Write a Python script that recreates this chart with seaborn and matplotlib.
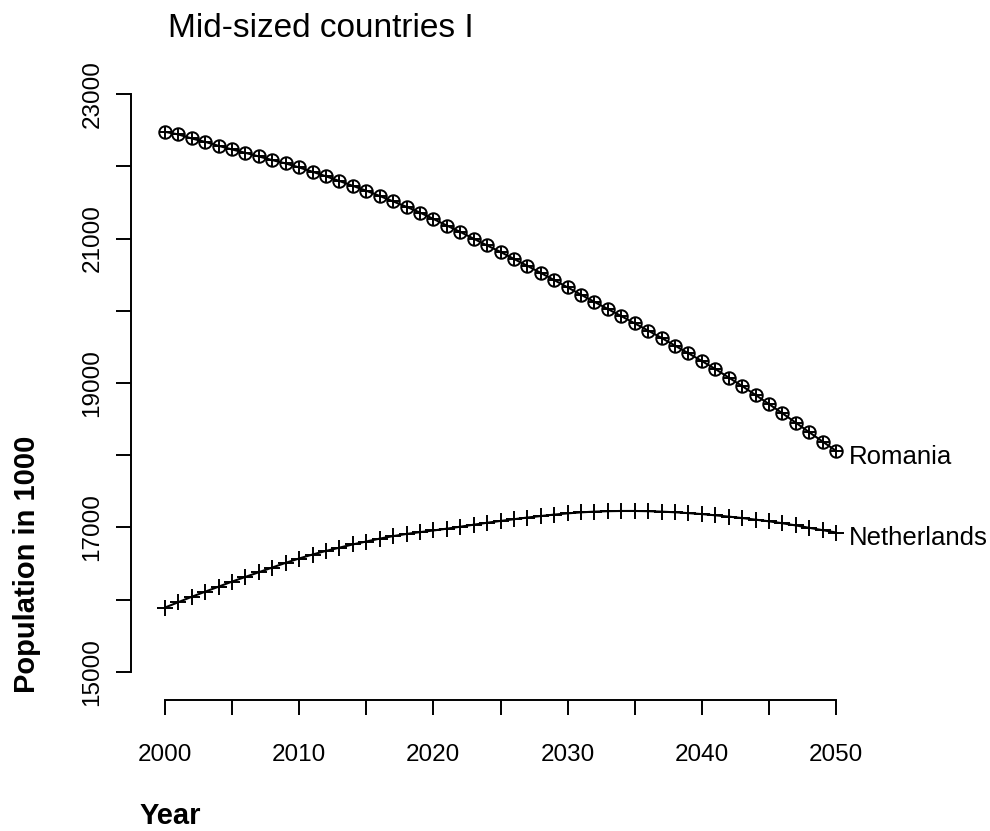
import pandas as pd
import seaborn as sns
import matplotlib.pyplot as plt

years = list(range(2000, 2051))
romania = [22478, 22442, 22386, 22339, 22284, 22234, 22187, 22137, 22086, 22040, 21985,
           21925, 21862, 21797, 21730, 21662, 21590, 21515, 21439, 21360, 21272,
           21180, 21092, 20998, 20905, 20815, 20718, 20622, 20524, 20425, 20324,
           20222, 20123, 20024, 19926, 19826, 19725, 19624, 19517, 19411, 19304,
           19194, 19075, 18958, 18834, 18708, 18580, 18450, 18318, 18188, 18059]
netherlands = [15890, 15965, 16040, 16110, 16180, 16250, 16315, 16380, 16445, 16510, 16570,
               16625, 16675, 16720, 16765, 16805, 16845, 16880, 16910, 16935, 16958,
               16983, 17010, 17038, 17065, 17090, 17114, 17137, 17158, 17178, 17195,
               17209, 17219, 17225, 17228, 17228, 17225, 17219, 17210, 17198, 17185,
               17168, 17150, 17130, 17108, 17085, 17058, 17028, 16995, 16962, 16930]
y_ticks = list(range(15000, 23001, 1000))
y_labels = ['15000', '', '17000', '', '19000', '', '21000', '', '23000']
x_ticks = list(range(2000, 2051, 5))
x_labels = ['2000', '', '2010', '', '2020', '', '2030', '', '2040', '', '2050']

df = pd.DataFrame({'Year': years, 'Romania': romania, 'Netherlands': netherlands})

sns.set_style('ticks')
plt.rcParams['font.family'] = ['Liberation Sans', 'DejaVu Sans']
plt.rcParams.update({'text.color': 'black', 'axes.labelcolor': 'black',
                     'xtick.color': 'black', 'ytick.color': 'black',
                     'axes.edgecolor': 'black'})

W, H = 990, 831
fig = plt.figure(figsize=(W / 100, H / 100), dpi=100)
left, right, top, bottom = 138, 863, 71, 695
ax = fig.add_axes([left / W, 1 - bottom / H, (right - left) / W, (bottom - top) / H])

# Romania: circle with plus
sns.lineplot(data=df, x='Year', y='Romania', color='black', lw=1.5, marker='o',
             markersize=9, markerfacecolor='none', markeredgecolor='black',
             markeredgewidth=1.4, ax=ax)
sns.scatterplot(data=df, x='Year', y='Romania', marker='+', s=80, color='black',
                linewidth=1.4, ax=ax, zorder=3)
# Netherlands: plus
sns.lineplot(data=df, x='Year', y='Netherlands', color='black', lw=1.5, marker='+',
             markersize=12, markeredgecolor='black', markeredgewidth=1.4, ax=ax)

ax.annotate('Romania', xy=(years[-1], romania[-1]), xytext=(9.5, -4),
            textcoords='offset points', ha='left', va='center', fontsize=18.5)
ax.annotate('Netherlands', xy=(years[-1], netherlands[-1]), xytext=(9.5, -4),
            textcoords='offset points', ha='left', va='center', fontsize=18.5)

# spines first: set_position resets the ticks
for s in ['top', 'right']:
    ax.spines[s].set_visible(False)
ax.spines['left'].set_position(('outward', 5))
ax.spines['bottom'].set_position(('outward', 3.6))
ax.spines['left'].set_bounds(15000, 23000)
ax.spines['bottom'].set_bounds(2000, 2050)
ax.spines['left'].set_linewidth(1.4)
ax.spines['bottom'].set_linewidth(1.4)

ax.set_xlim(1998, 2052)
ax.set_ylim(14680, 23320)
ax.set_xticks(x_ticks, x_labels)
ax.set_yticks(y_ticks, y_labels)
ax.tick_params(axis='x', length=10.8, width=1.4, pad=21, labelsize=17.5)
ax.tick_params(axis='y', length=10.8, width=1.4, pad=9, labelsize=17.5,
               labelrotation=90)
for lab in ax.get_yticklabels():
    lab.set_rotation_mode('default')
    lab.set_va('center')
    lab.set_ha('right')
ax.set_xlabel('')
ax.set_ylabel('')

fig.text(168 / W, 1 - 37 / H, 'Mid-sized countries I', fontsize=24,
         ha='left', va='baseline')
fig.text(140 / W, 1 - 824 / H, 'Year', fontsize=21, fontweight='bold',
         ha='left', va='baseline')
fig.text(35 / W, 1 - 693 / H, 'Population in 1000', fontsize=21, fontweight='bold',
         rotation=90, rotation_mode='anchor', ha='left', va='baseline')

fig.savefig('out.png', dpi=100, facecolor='white')
